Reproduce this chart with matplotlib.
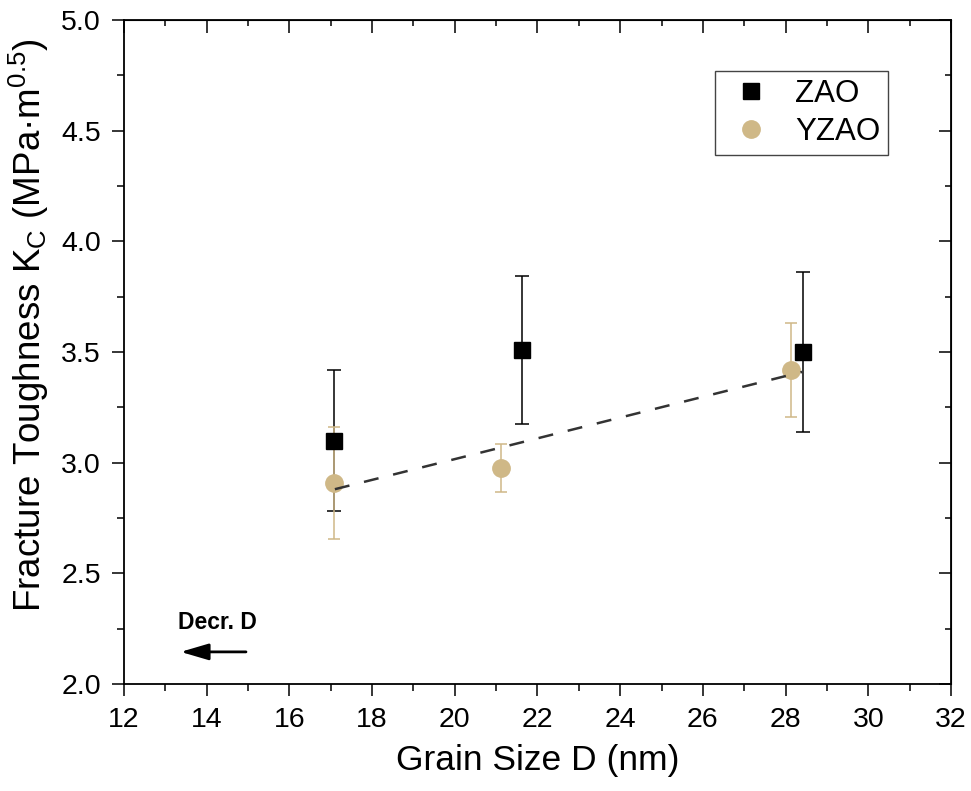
import matplotlib
matplotlib.use("Agg")
import matplotlib.pyplot as plt
from matplotlib.ticker import MultipleLocator

plt.rcParams["font.family"] = ["Liberation Sans", "DejaVu Sans"]
plt.rcParams["mathtext.fontset"] = "custom"
plt.rcParams["mathtext.rm"] = "Liberation Sans"
plt.rcParams["mathtext.it"] = "Liberation Sans:italic"

# data
zao_x = [17.08, 21.63, 28.41]
zao_y = [3.10, 3.51, 3.50]
zao_err = [0.32, 0.335, 0.363]

yzao_x = [17.08, 21.12, 28.12]
yzao_y = [2.91, 2.975, 3.42]
yzao_err = [0.253, 0.108, 0.212]

# dashed trend line through the YZAO points
fit_x = [17.1, 28.4]
fit_y = [2.88, 3.41]

tan = "#CFB887"

fig = plt.figure(figsize=(9.71, 7.91), dpi=100)
ax = fig.add_axes([0.1277, 0.1353, 0.8517, 0.8394])

ax.errorbar(zao_x, zao_y, yerr=zao_err, fmt="none", ecolor="black",
            elinewidth=1.1, capsize=4.8, capthick=1.1, zorder=2)
ax.errorbar(yzao_x, yzao_y, yerr=yzao_err, fmt="none", ecolor=tan,
            elinewidth=1.1, capsize=4.3, capthick=1.1, zorder=3)
ax.plot(zao_x, zao_y, "s", color="black", markersize=11, label="ZAO", zorder=4)
ax.plot(yzao_x, yzao_y, "o", color=tan, markersize=12.5, label="YZAO", zorder=4)
ax.plot(fit_x, fit_y, color="#333333", lw=1.8, dashes=(6, 6), zorder=5)

ax.set_xlim(12, 32)
ax.set_ylim(2.0, 5.0)
ax.xaxis.set_major_locator(MultipleLocator(2))
ax.xaxis.set_minor_locator(MultipleLocator(1))
ax.yaxis.set_major_locator(MultipleLocator(0.5))
ax.yaxis.set_minor_locator(MultipleLocator(0.25))
ax.yaxis.set_major_formatter(matplotlib.ticker.FormatStrFormatter("%.1f"))

for s in ax.spines.values():
    s.set_linewidth(1.3)

ax.tick_params(which="both", direction="out", width=1.1, labelsize=20.5, pad=8)
ax.tick_params(which="major", length=8.5)
ax.tick_params(which="minor", length=4.8)

# inward ticks on top and right, no labels
ax2 = ax.secondary_xaxis("top")
ax2.xaxis.set_major_locator(MultipleLocator(2))
ax2.xaxis.set_minor_locator(MultipleLocator(1))
ax2.tick_params(which="both", direction="in", width=1.1, labeltop=False)
ax2.tick_params(which="major", length=9)
ax2.tick_params(which="minor", length=4.5)
ax3 = ax.secondary_yaxis("right")
ax3.yaxis.set_major_locator(MultipleLocator(0.5))
ax3.yaxis.set_minor_locator(MultipleLocator(0.25))
ax3.tick_params(which="both", direction="in", width=1.1, labelright=False)
ax3.tick_params(which="major", length=9)
ax3.tick_params(which="minor", length=4.5)

ax.set_xlabel("Grain Size D (nm)", fontsize=25.5, labelpad=8)
ax.set_ylabel(r"Fracture Toughness K$_\mathrm{C}$ (MPa·m$^{0.5}$)", fontsize=26.5)
ax.yaxis.set_label_coords(-0.088, 0.54)

ax.text(14.25, 2.28, "Decr. D", fontsize=16.5, fontweight="bold", ha="center", va="center")
ax.annotate("", xy=(13.37, 2.145), xytext=(14.95, 2.145),
            arrowprops=dict(arrowstyle="-|>,head_length=0.85,head_width=0.25",
                            mutation_scale=20, color="black", lw=2,
                            shrinkA=0, shrinkB=0))

leg = ax.legend(loc="upper right", bbox_to_anchor=(0.924, 0.923), borderaxespad=0,
                fontsize=22.5, fancybox=False, edgecolor="#444444", framealpha=1,
                handletextpad=0.5, borderpad=0.25, labelspacing=0.25, handlelength=1.8)
leg.get_frame().set_linewidth(1.0)

fig.savefig("out.png", dpi=100)
